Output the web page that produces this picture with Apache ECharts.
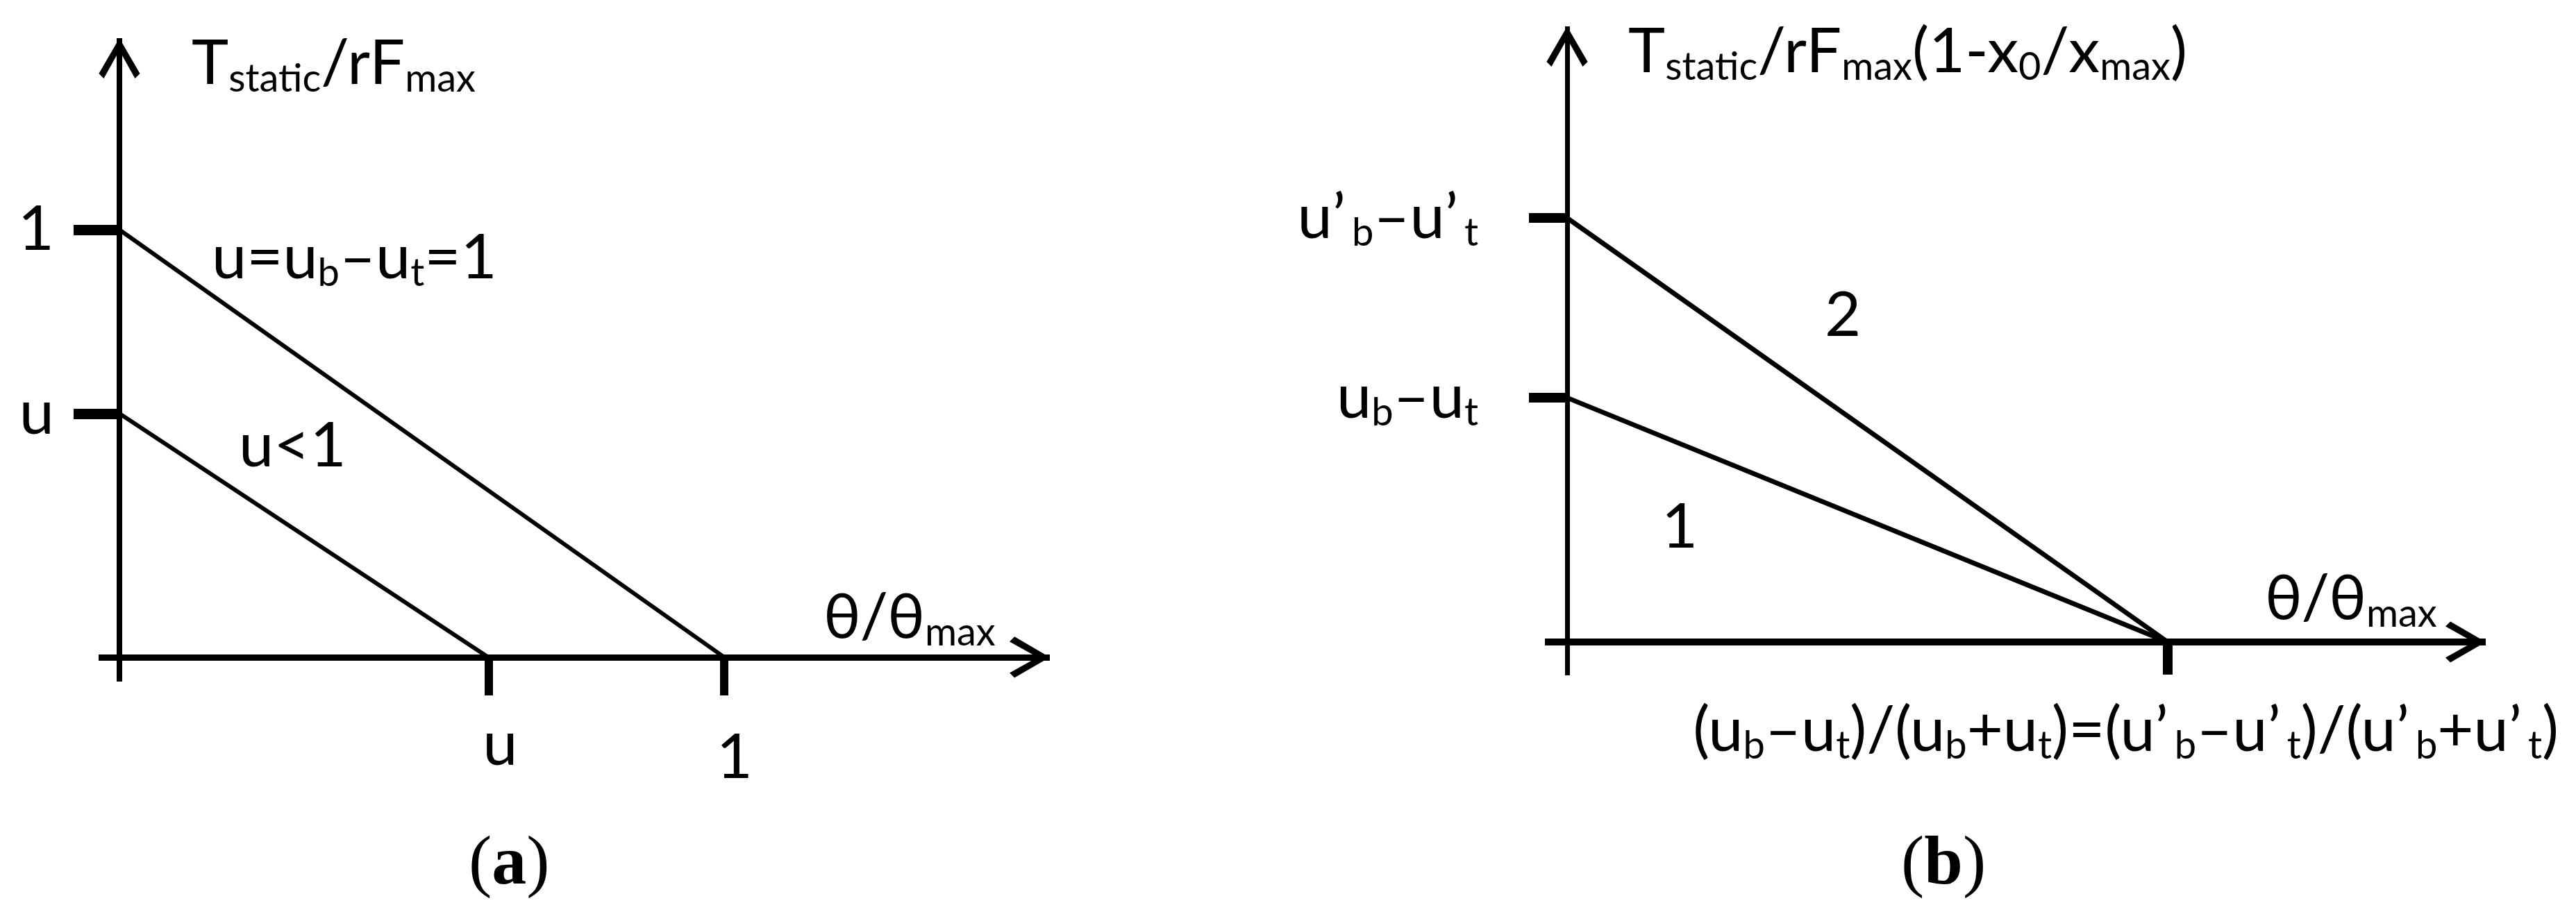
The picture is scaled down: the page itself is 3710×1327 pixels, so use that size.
<!DOCTYPE html>
<html>
<head>
<meta charset="utf-8">
<title>Static torque vs angle</title>
<script src="https://cdn.jsdelivr.net/npm/echarts@6.0.0/dist/echarts.min.js"></script>
<style>
  html, body { margin: 0; padding: 0; background: #fff; }
  #chart { width: 3710px; height: 1327px; }
</style>
</head>
<body>
<div id="chart"></div>
<script>
// ---- panel (a) ----
const lineA1 = [[0, 1], [1, 0]];          // u = ub - ut = 1
const lineA2 = [[0, 0.57], [0.61, 0]];    // u < 1
const xTicksA = [0.61, 1];
const xTickLabelsA = ['u', '1'];
const yTicksA = [1, 0.57];
const yTickLabelsA = ['1', 'u'];

// ---- panel (b) ----
const lineB2 = [[0, 1], [1, 0]];          // curve 2
const lineB1 = [[0, 0.576], [1, 0]];      // curve 1
const xTicksB = [1];
const yTicksB = [1, 0.576];
const yTickLabelsB = ['u’_{b}–u’_{t}', 'u_{b}–u_{t}'];

const FONT = 'Lato, "Noto Sans", "DejaVu Sans", sans-serif';
const SERIF = '"Liberation Serif", "DejaVu Serif", serif';
const CHEVRON = 'path://M50,0 L100,86 L88,98 L50,30 L12,98 L0,86 Z';

// "_{...}" marks a subscript; after a prime the subscript sits a bit further right
function rich(s) {
  return ('{m|' + s
    .replace(/’_\{([^}]*)\}/g, '’}{sp|$1}{m|')
    .replace(/_\{([^}]*)\}/g, '}{s|$1}{m|') + '}').replace(/\{m\|\}/g, '');
}

const R = {
  m: { fontFamily: FONT, fontSize: 90, lineHeight: 100, verticalAlign: 'middle', color: '#000', fontWeight: 'normal' },
  s: { fontFamily: FONT, fontSize: 56, lineHeight: 44, verticalAlign: 'bottom', color: '#000', fontWeight: 'normal' },
  sp: { fontFamily: FONT, fontSize: 56, lineHeight: 44, verticalAlign: 'bottom', color: '#000', fontWeight: 'normal', padding: [0, 0, 0, 9] },
  xl0: { fontFamily: FONT, fontSize: 90, lineHeight: 62, color: '#000', padding: [0, 0, 0, 34] },
  xl1: { fontFamily: FONT, fontSize: 90, lineHeight: 100, color: '#000', padding: [0, 0, 0, 30] }
};
const P = {
  p: { fontFamily: SERIF, fontSize: 100, lineHeight: 110, fontWeight: 'normal', color: '#000' },
  b: { fontFamily: SERIF, fontSize: 100, lineHeight: 110, fontWeight: 'bold', color: '#000' }
};

const note = (text, pos) => Object.assign({
  text: rich(text), padding: 0,
  textStyle: { rich: R, fontWeight: 'normal', fontFamily: FONT }
}, pos);
const panelTag = (letter, left, top) => ({
  text: '{p|(}{b|' + letter + '}{p|)}', left: left, top: top, padding: 0,
  textStyle: { rich: P, fontWeight: 'normal' }
});

const blackLine = (w) => ({ color: '#000', width: w, cap: 'butt' });

const chart = echarts.init(document.getElementById('chart'));

const option = {
  animation: false,
  backgroundColor: '#fff',
  textStyle: { fontFamily: FONT },
  title: [
    note('T_{static}/rF_{max}', { left: 276, top: 42 }),
    note('θ/θ_{max}', { left: 1186, top: 840 }),
    note('u=u_{b}–u_{t}=1', { left: 305, top: 322 }),
    note('u<1', { left: 344, top: 593 }),
    note('T_{static}/rF_{max}(1-x_{0}/x_{max})', { left: 2345, top: 25 }),
    note('θ/θ_{max}', { left: 3262, top: 813 }),
    note('2', { left: 2628, top: 405 }),
    note('1', { left: 2393, top: 710 }),
    note('(u_{b}–u_{t})/(u_{b}+u_{t})=(u’_{b}–u’_{t})/(u’_{b}+u’_{t})', { right: 25, top: 1003 }),
    panelTag('a', 675, 1192),
    panelTag('b', 2738, 1192)
  ],
  grid: [
    { left: 142, width: 1370, top: 55, height: 927, outerBoundsMode: 'none' },
    { left: 2225, width: 1355, top: 38, height: 935, outerBoundsMode: 'none' }
  ],
  xAxis: [
    {
      gridIndex: 0, type: 'value', min: -0.0344, max: 1.5385,
      axisLine: { onZero: true, lineStyle: blackLine(9), symbol: ['none', CHEVRON], symbolSize: [60, 58], symbolOffset: [0, -29] },
      axisTick: { customValues: xTicksA, length: 55, lineStyle: blackLine(12) },
      axisLabel: {
        customValues: xTicksA, margin: 60, verticalAlign: 'top', rich: R,
        formatter: (v) => { const i = xTicksA.indexOf(v); return '{xl' + i + '|' + xTickLabelsA[i] + '}'; }
      },
      splitLine: { show: false }
    },
    {
      gridIndex: 1, type: 'value', min: -0.037, max: 1.5295,
      axisLine: { onZero: true, lineStyle: blackLine(10), symbol: ['none', CHEVRON], symbolSize: [60, 58], symbolOffset: [0, -29] },
      axisTick: { customValues: xTicksB, length: 47, lineStyle: blackLine(14) },
      axisLabel: { show: false },
      splitLine: { show: false }
    }
  ],
  yAxis: [
    {
      gridIndex: 0, type: 'value', min: -0.057, max: 1.448,
      axisLine: { onZero: true, lineStyle: blackLine(8), symbol: ['none', CHEVRON], symbolSize: [60, 58], symbolOffset: [0, -29] },
      axisTick: { customValues: yTicksA, length: 66, lineStyle: blackLine(15) },
      axisLabel: {
        customValues: yTicksA, margin: 64, rich: R,
        formatter: (v) => rich(yTickLabelsA[yTicksA.indexOf(v)])
      },
      splitLine: { show: false }
    },
    {
      gridIndex: 1, type: 'value', min: -0.0786, max: 1.452,
      axisLine: { onZero: true, lineStyle: blackLine(7), symbol: ['none', CHEVRON], symbolSize: [60, 58], symbolOffset: [0, -29] },
      axisTick: { customValues: yTicksB, length: 55, lineStyle: blackLine(14) },
      axisLabel: {
        customValues: yTicksB, margin: 96, rich: R,
        formatter: (v) => rich(yTickLabelsB[yTicksB.indexOf(v)])
      },
      splitLine: { show: false }
    }
  ],
  series: [
    { name: 'u=1', type: 'line', xAxisIndex: 0, yAxisIndex: 0, data: lineA1, symbol: 'none', silent: true, lineStyle: { color: '#000', width: 6 } },
    { name: 'u<1', type: 'line', xAxisIndex: 0, yAxisIndex: 0, data: lineA2, symbol: 'none', silent: true, lineStyle: { color: '#000', width: 6 } },
    { name: '2', type: 'line', xAxisIndex: 1, yAxisIndex: 1, data: lineB2, symbol: 'none', silent: true, lineStyle: { color: '#000', width: 7 } },
    { name: '1', type: 'line', xAxisIndex: 1, yAxisIndex: 1, data: lineB1, symbol: 'none', silent: true, lineStyle: { color: '#000', width: 7 } }
  ]
};

chart.setOption(option);
</script>
</body>
</html>
